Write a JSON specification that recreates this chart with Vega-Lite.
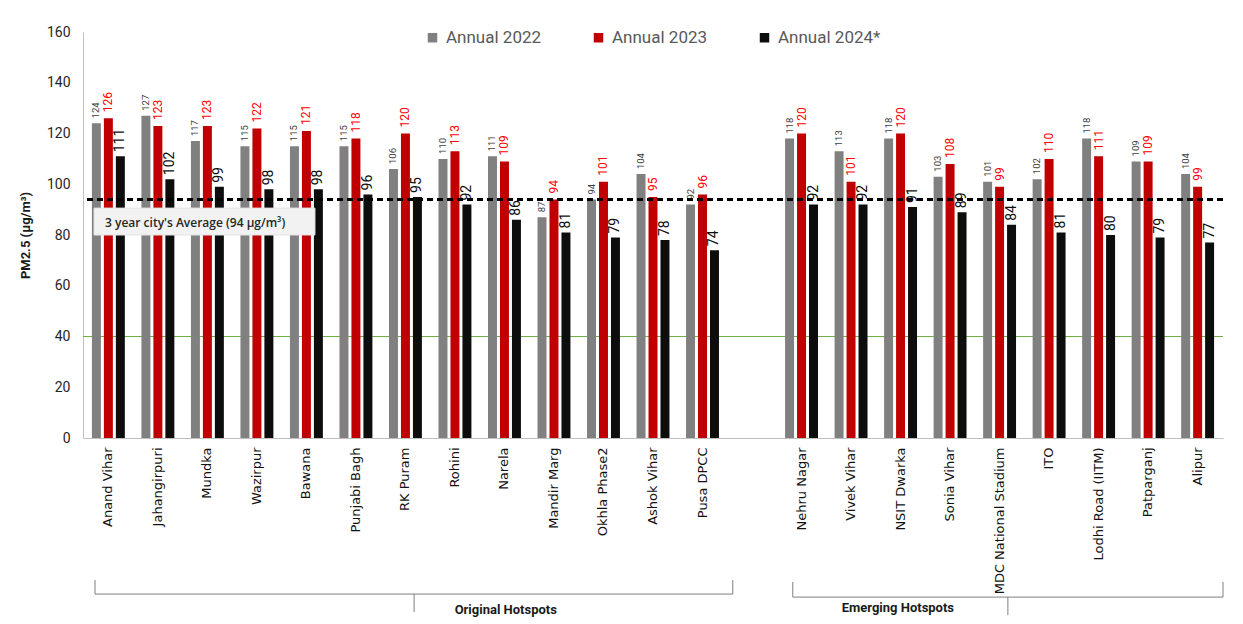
{
  "$schema": "https://vega.github.io/schema/vega-lite/v6.json",
  "width": 1140,
  "height": 406,
  "autosize": "none",
  "padding": {"left": 83, "top": 32, "right": 20, "bottom": 186},
  "background": "white",
  "config": {"view": {"stroke": null}, "font": "Roboto"},
  "datasets": {
    "pm": [
      {"station": "Anand Vihar", "series": "Annual 2022", "value": 124},
      {"station": "Anand Vihar", "series": "Annual 2023", "value": 126},
      {"station": "Anand Vihar", "series": "Annual 2024*", "value": 111},
      {"station": "Jahangirpuri", "series": "Annual 2022", "value": 127},
      {"station": "Jahangirpuri", "series": "Annual 2023", "value": 123},
      {"station": "Jahangirpuri", "series": "Annual 2024*", "value": 102},
      {"station": "Mundka", "series": "Annual 2022", "value": 117},
      {"station": "Mundka", "series": "Annual 2023", "value": 123},
      {"station": "Mundka", "series": "Annual 2024*", "value": 99},
      {"station": "Wazirpur", "series": "Annual 2022", "value": 115},
      {"station": "Wazirpur", "series": "Annual 2023", "value": 122},
      {"station": "Wazirpur", "series": "Annual 2024*", "value": 98},
      {"station": "Bawana", "series": "Annual 2022", "value": 115},
      {"station": "Bawana", "series": "Annual 2023", "value": 121},
      {"station": "Bawana", "series": "Annual 2024*", "value": 98},
      {"station": "Punjabi Bagh", "series": "Annual 2022", "value": 115},
      {"station": "Punjabi Bagh", "series": "Annual 2023", "value": 118},
      {"station": "Punjabi Bagh", "series": "Annual 2024*", "value": 96},
      {"station": "RK Puram", "series": "Annual 2022", "value": 106},
      {"station": "RK Puram", "series": "Annual 2023", "value": 120},
      {"station": "RK Puram", "series": "Annual 2024*", "value": 95},
      {"station": "Rohini", "series": "Annual 2022", "value": 110},
      {"station": "Rohini", "series": "Annual 2023", "value": 113},
      {"station": "Rohini", "series": "Annual 2024*", "value": 92},
      {"station": "Narela", "series": "Annual 2022", "value": 111},
      {"station": "Narela", "series": "Annual 2023", "value": 109},
      {"station": "Narela", "series": "Annual 2024*", "value": 86},
      {"station": "Mandir Marg", "series": "Annual 2022", "value": 87},
      {"station": "Mandir Marg", "series": "Annual 2023", "value": 94},
      {"station": "Mandir Marg", "series": "Annual 2024*", "value": 81},
      {"station": "Okhla Phase2", "series": "Annual 2022", "value": 94},
      {"station": "Okhla Phase2", "series": "Annual 2023", "value": 101},
      {"station": "Okhla Phase2", "series": "Annual 2024*", "value": 79},
      {"station": "Ashok Vihar", "series": "Annual 2022", "value": 104},
      {"station": "Ashok Vihar", "series": "Annual 2023", "value": 95},
      {"station": "Ashok Vihar", "series": "Annual 2024*", "value": 78},
      {"station": "Pusa DPCC", "series": "Annual 2022", "value": 92},
      {"station": "Pusa DPCC", "series": "Annual 2023", "value": 96},
      {"station": "Pusa DPCC", "series": "Annual 2024*", "value": 74},
      {"station": "Nehru Nagar", "series": "Annual 2022", "value": 118},
      {"station": "Nehru Nagar", "series": "Annual 2023", "value": 120},
      {"station": "Nehru Nagar", "series": "Annual 2024*", "value": 92},
      {"station": "Vivek Vihar", "series": "Annual 2022", "value": 113},
      {"station": "Vivek Vihar", "series": "Annual 2023", "value": 101},
      {"station": "Vivek Vihar", "series": "Annual 2024*", "value": 92},
      {"station": "NSIT Dwarka", "series": "Annual 2022", "value": 118},
      {"station": "NSIT Dwarka", "series": "Annual 2023", "value": 120},
      {"station": "NSIT Dwarka", "series": "Annual 2024*", "value": 91},
      {"station": "Sonia Vihar", "series": "Annual 2022", "value": 103},
      {"station": "Sonia Vihar", "series": "Annual 2023", "value": 108},
      {"station": "Sonia Vihar", "series": "Annual 2024*", "value": 89},
      {"station": "MDC National Stadium", "series": "Annual 2022", "value": 101},
      {"station": "MDC National Stadium", "series": "Annual 2023", "value": 99},
      {"station": "MDC National Stadium", "series": "Annual 2024*", "value": 84},
      {"station": "ITO", "series": "Annual 2022", "value": 102},
      {"station": "ITO", "series": "Annual 2023", "value": 110},
      {"station": "ITO", "series": "Annual 2024*", "value": 81},
      {"station": "Lodhi Road (IITM)", "series": "Annual 2022", "value": 118},
      {"station": "Lodhi Road (IITM)", "series": "Annual 2023", "value": 111},
      {"station": "Lodhi Road (IITM)", "series": "Annual 2024*", "value": 80},
      {"station": "Patparganj", "series": "Annual 2022", "value": 109},
      {"station": "Patparganj", "series": "Annual 2023", "value": 109},
      {"station": "Patparganj", "series": "Annual 2024*", "value": 79},
      {"station": "Alipur", "series": "Annual 2022", "value": 104},
      {"station": "Alipur", "series": "Annual 2023", "value": 99},
      {"station": "Alipur", "series": "Annual 2024*", "value": 77}
    ]
  },
  "layer": [
    {
      "data": {"name": "pm"},
      "encoding": {
        "x": {
          "field": "station",
          "type": "nominal",
          "title": null,
          "scale": {
            "domain": ["Anand Vihar", "Jahangirpuri", "Mundka", "Wazirpur", "Bawana", "Punjabi Bagh", "RK Puram", "Rohini", "Narela", "Mandir Marg", "Okhla Phase2", "Ashok Vihar", "Pusa DPCC", " ", "Nehru Nagar", "Vivek Vihar", "NSIT Dwarka", "Sonia Vihar", "MDC National Stadium", "ITO", "Lodhi Road (IITM)", "Patparganj", "Alipur"],
            "paddingInner": 0.335,
            "paddingOuter": 0.18
          },
          "axis": {
            "labelAngle": -90,
            "labelFont": "DejaVu Sans",
            "labelFontSize": 13,
            "labelColor": "#111111",
            "labelPadding": 9,
            "ticks": false,
            "tickSize": 0,
            "domainColor": "#bfbfbf",
            "domainWidth": 1,
            "grid": false,
            "labelLimit": 300
          }
        },
        "xOffset": {"field": "series", "type": "nominal", "scale": {"paddingInner": 0.25, "paddingOuter": 0}},
        "y": {
          "field": "value",
          "type": "quantitative",
          "scale": {"domain": [0, 160], "nice": false},
          "axis": {
            "values": [0, 20, 40, 60, 80, 100, 120, 140, 160],
            "title": "PM2.5 (µg/m³)",
            "titleFont": "Roboto",
            "titleFontSize": 13,
            "titleFontWeight": "bold",
            "titleColor": "#1a1a1a",
            "titlePadding": 14,
            "labelFont": "Roboto",
            "labelFontSize": 14,
            "labelColor": "#262626",
            "labelPadding": 13,
            "ticks": false,
            "tickSize": 0,
            "grid": false,
            "domainColor": "#bfbfbf"
          }
        }
      },
      "layer": [
        {
          "mark": {"type": "rule", "color": "#70ad47", "strokeWidth": 1},
          "encoding": {"x": null, "xOffset": null, "y": {"datum": 40}}
        },
        {
          "mark": {"type": "bar"},
          "encoding": {
            "color": {
              "field": "series",
              "type": "nominal",
              "scale": {"domain": ["Annual 2022", "Annual 2023", "Annual 2024*"], "range": ["#808080", "#c00000", "#0d0d0d"]},
              "legend": {
                "orient": "none",
                "legendX": 341,
                "legendY": -3,
                "direction": "horizontal",
                "title": null,
                "symbolType": "square",
                "symbolSize": 90,
                "symbolStrokeWidth": 0,
                "labelFont": "Roboto",
                "labelFontSize": 17,
                "labelColor": "#595959",
                "labelOffset": 5,
                "columnPadding": 48
              }
            }
          }
        },
        {
          "transform": [{"filter": "datum.series === 'Annual 2022'"}],
          "mark": {"type": "text", "angle": 270, "align": "left", "baseline": "middle", "dx": 5, "font": "Roboto", "fontSize": 9.5, "color": "#404040"},
          "encoding": {"text": {"field": "value", "type": "quantitative"}, "angle": {"value": 270}}
        },
        {
          "transform": [{"filter": "datum.series === 'Annual 2023'"}],
          "mark": {"type": "text", "angle": 270, "align": "left", "baseline": "middle", "dx": 6, "font": "Roboto", "fontSize": 12, "color": "#ff0000"},
          "encoding": {"text": {"field": "value", "type": "quantitative"}, "angle": {"value": 270}}
        },
        {
          "transform": [{"filter": "datum.series === 'Annual 2024*'"}],
          "mark": {"type": "text", "angle": 270, "align": "left", "baseline": "middle", "dx": 4, "font": "Roboto", "fontSize": 14, "color": "#0d0d0d"},
          "encoding": {"text": {"field": "value", "type": "quantitative"}, "angle": {"value": 270}}
        },
        {
          "mark": {"type": "rule", "color": "#000000", "strokeWidth": 2, "strokeDash": [6, 4]},
          "encoding": {"x": null, "xOffset": null, "y": {"datum": 94}}
        }
      ]
    },
    {
      "data": {"values": [{}]},
      "layer": [
        {
          "mark": {"type": "rect", "fill": "#f2f2f2", "stroke": "#e3e3e3", "strokeWidth": 1},
          "encoding": {
            "x": {"datum": 0.222, "type": "quantitative", "scale": {"domain": [0, 23], "nice": false, "zero": false}, "axis": null},
            "x2": {"datum": 4.68},
            "y": {"datum": 90.6, "type": "quantitative"},
            "y2": {"datum": 80.0}
          }
        },
        {
          "mark": {"type": "text", "align": "left", "baseline": "middle", "font": "Open Sans", "fontSize": 12, "fontWeight": 600, "color": "#262626", "text": "3 year city's Average (94 µg/m³)"},
          "encoding": {
            "x": {"datum": 0.444, "type": "quantitative"},
            "y": {"datum": 84.7, "type": "quantitative"}
          }
        },
        {
          "mark": {"type": "rule", "color": "#7f7f7f", "strokeWidth": 1},
          "encoding": {"x": {"datum": 0.242, "type": "quantitative"}, "y": {"datum": -55.96, "type": "quantitative"}, "y2": {"datum": -61.5}}
        },
        {
          "mark": {"type": "rule", "color": "#7f7f7f", "strokeWidth": 1},
          "encoding": {"x": {"datum": 0.242, "type": "quantitative"}, "x2": {"datum": 13.11}, "y": {"datum": -61.5, "type": "quantitative"}}
        },
        {
          "mark": {"type": "rule", "color": "#7f7f7f", "strokeWidth": 1},
          "encoding": {"x": {"datum": 6.68, "type": "quantitative"}, "y": {"datum": -61.5, "type": "quantitative"}, "y2": {"datum": -68.6}}
        },
        {
          "mark": {"type": "rule", "color": "#7f7f7f", "strokeWidth": 1},
          "encoding": {"x": {"datum": 13.11, "type": "quantitative"}, "y": {"datum": -55.96, "type": "quantitative"}, "y2": {"datum": -61.5}}
        },
        {
          "mark": {"type": "text", "align": "center", "baseline": "middle", "font": "Roboto", "fontSize": 13, "fontWeight": "bold", "color": "#1a1a1a", "text": "Original Hotspots"},
          "encoding": {"x": {"datum": 8.53, "type": "quantitative"}, "y": {"datum": -67.8, "type": "quantitative"}}
        },
        {
          "mark": {"type": "rule", "color": "#7f7f7f", "strokeWidth": 1},
          "encoding": {"x": {"datum": 14.32, "type": "quantitative"}, "y": {"datum": -56.7, "type": "quantitative"}, "y2": {"datum": -62.7}}
        },
        {
          "mark": {"type": "rule", "color": "#7f7f7f", "strokeWidth": 1},
          "encoding": {"x": {"datum": 14.32, "type": "quantitative"}, "x2": {"datum": 23.0}, "y": {"datum": -62.7, "type": "quantitative"}}
        },
        {
          "mark": {"type": "rule", "color": "#7f7f7f", "strokeWidth": 1},
          "encoding": {"x": {"datum": 18.66, "type": "quantitative"}, "y": {"datum": -62.7, "type": "quantitative"}, "y2": {"datum": -69.8}}
        },
        {
          "mark": {"type": "rule", "color": "#7f7f7f", "strokeWidth": 1},
          "encoding": {"x": {"datum": 23.0, "type": "quantitative"}, "y": {"datum": -56.7, "type": "quantitative"}, "y2": {"datum": -62.7}}
        },
        {
          "mark": {"type": "text", "align": "center", "baseline": "middle", "font": "Roboto", "fontSize": 13, "fontWeight": "bold", "color": "#1a1a1a", "text": "Emerging Hotspots"},
          "encoding": {"x": {"datum": 16.44, "type": "quantitative"}, "y": {"datum": -67.0, "type": "quantitative"}}
        }
      ]
    }
  ],
  "resolve": {"scale": {"x": "independent"}}
}
